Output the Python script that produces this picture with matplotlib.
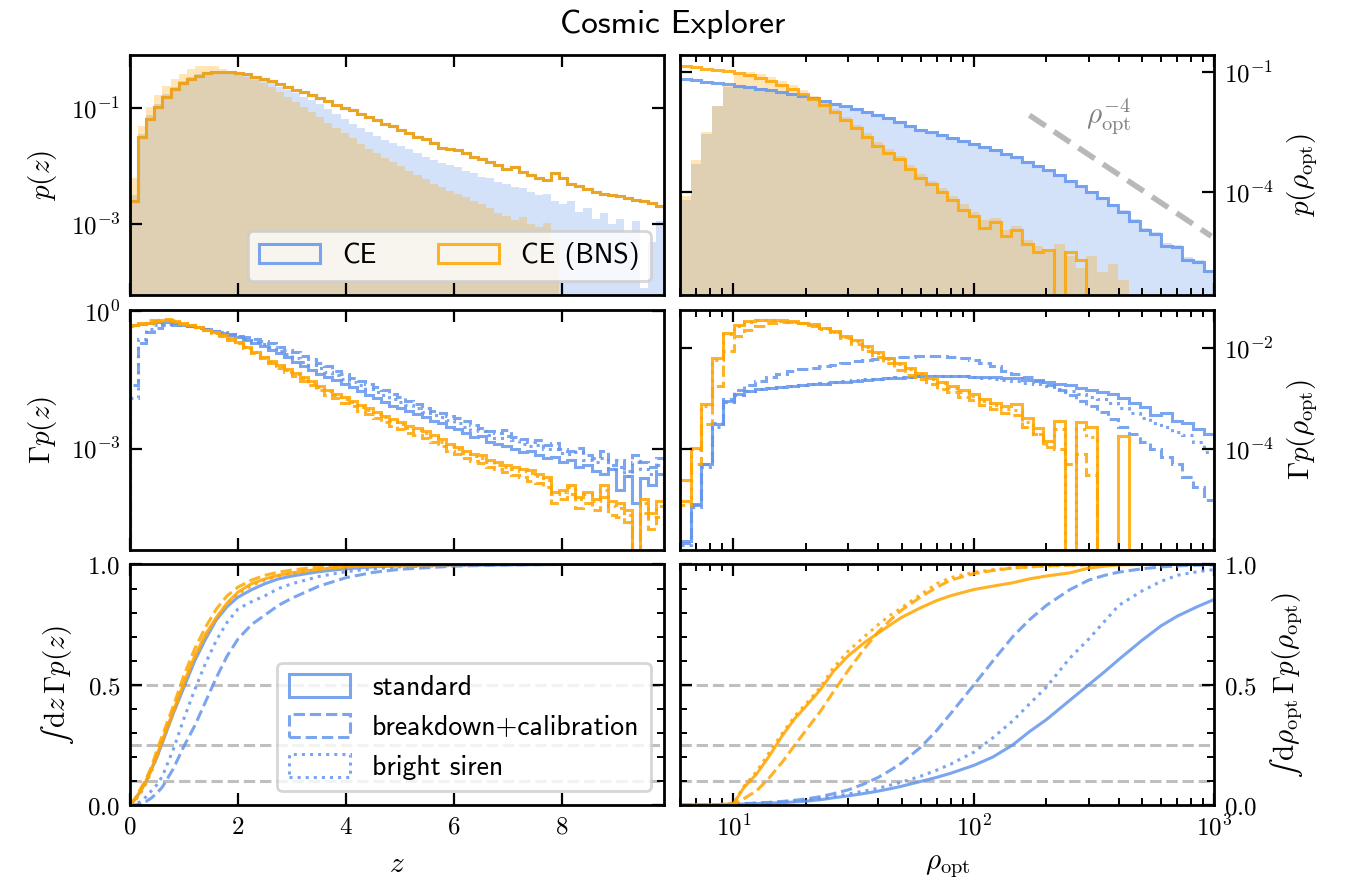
import numpy as np
import matplotlib
matplotlib.use('Agg')
import matplotlib.pyplot as plt
from matplotlib.patches import Patch
from matplotlib.ticker import FuncFormatter, MultipleLocator, NullLocator

plt.rcParams['mathtext.fontset'] = 'cm'
plt.rcParams['font.size'] = 9
plt.rcParams['axes.linewidth'] = 1.0

blue = 'cornflowerblue'
orange = 'orange'
NaN = np.nan

# ---------------- bins ----------------
z_edges = np.linspace(0, 9.9, 67)                 # 66 bins in z
rho_edges = np.logspace(np.log10(6), 3, 51)       # 50 bins in rho_opt

# ---------------- p(z), log10 values ----------------
logp_z_all = [-2.6, -1.5, -1.18, -0.98, -0.8, -0.67, -0.56, -0.49, -0.44, -0.4,
              -0.38, -0.37, -0.375, -0.39, -0.42, -0.46, -0.5, -0.54, -0.59, -0.64,
              -0.68, -0.73, -0.78, -0.83, -0.88, -0.95, -0.99, -1.04, -1.1, -1.15,
              -1.2, -1.27, -1.3, -1.37, -1.43, -1.5, -1.53, -1.6, -1.68, -1.7,
              -1.72, -1.78, -1.84, -1.88, -1.93, -1.98, -2.04, -2.02, -2.1, -2.15,
              -2.2, -2.23, -2.12, -2.2, -2.3, -2.34, -2.4, -2.44, -2.47, -2.5,
              -2.52, -2.55, -2.58, -2.6, -2.63, -2.69]
logp_z_ce_det = [-2.5, -1.45, -1.12, -0.93, -0.76, -0.63, -0.53, -0.47, -0.42, -0.39,
                 -0.37, -0.36, -0.37, -0.39, -0.42, -0.47, -0.52, -0.57, -0.63, -0.68,
                 -0.74, -0.8, -0.86, -0.93, -1.02, -1.1, -1.19, -1.27, -1.34, -1.41,
                 -1.48, -1.55, -1.6, -1.66, -1.71, -1.78, -1.84, -1.9, -1.95, -1.98,
                 -2.02, -2.08, -2.12, -2.18, -2.2, -2.27, -2.3, -2.35, -2.38, -2.45,
                 -2.5, -2.48, -2.6, -2.65, -2.6, -2.78, -2.72, -2.9, -2.8, -3.0,
                 -2.9, -3.15, -2.95, -4.1, -3.3, -2.95]
logp_z_bns_det = [-2.2, -1.3, -0.98, -0.78, -0.62, -0.5, -0.42, -0.33, -0.28, -0.27,
                  -0.28, -0.33, -0.37, -0.41, -0.46, -0.51, -0.57, -0.64, -0.72, -0.8,
                  -0.89, -0.98, -1.07, -1.16, -1.25, -1.34, -1.43, -1.52, -1.61, -1.7,
                  -1.78, -1.86, -1.93, -2.0, -2.08, -2.15, -2.22, -2.3, -2.35, -2.42,
                  -2.47, -2.53, -2.6, -2.65, -2.72, -2.8, -2.85, -2.92, -2.88, -3.0,
                  -3.05, -2.98, -3.3, NaN, NaN, NaN, NaN, NaN, NaN, NaN,
                  NaN, NaN, NaN, NaN, NaN, NaN]

# ---------------- Gamma p(z) ----------------
logg_z_bns_std = [-0.3, -0.28, -0.25, -0.22, -0.2, -0.22, -0.27, -0.31, -0.35, -0.4,
                  -0.46, -0.52, -0.59, -0.67, -0.78, -0.89, -0.99, -1.09, -1.18, -1.27,
                  -1.35, -1.43, -1.53, -1.63, -1.72, -1.8, -1.88, -1.95, -2.05, -2.12,
                  -2.2, -2.28, -2.36, -2.42, -2.5, -2.55, -2.62, -2.7, -2.8, -2.9,
                  -2.97, -3.05, -3.12, -3.15, -3.25, -3.3, -3.35, -3.4, -3.45, -3.48,
                  -3.55, -3.62, -3.95, -3.9, -3.8, -4.05, -3.95, -4.1, -3.8, -4.15,
                  -4.2, -4.35, -5.5, -4.1, -4.4, -4.15]
logg_z_bns_bkd = [-0.33, -0.25, -0.2, -0.18, -0.17, -0.2, -0.25, -0.3, -0.35, -0.41,
                  -0.48, -0.55, -0.62, -0.7, -0.8, -0.92, -1.03, -1.13, -1.23, -1.33,
                  -1.42, -1.52, -1.62, -1.72, -1.82, -1.9, -2.0, -2.08, -2.17, -2.25,
                  -2.33, -2.42, -2.5, -2.57, -2.65, -2.7, -2.78, -2.86, -2.95, -3.05,
                  -3.12, -3.2, -3.27, -3.32, -3.4, -3.45, -3.52, -3.58, -3.62, -3.7,
                  -3.75, -3.85, -4.2, -4.1, -4.0, -4.3, -4.2, -4.35, -4.05, -4.45,
                  -4.5, -4.6, -5.3, -4.4, -4.75, -4.5]
logg_z_bns_brt = [-0.31, -0.27, -0.23, -0.2, -0.19, -0.21, -0.26, -0.3, -0.35, -0.4,
                  -0.47, -0.53, -0.6, -0.68, -0.79, -0.9, -1.0, -1.1, -1.2, -1.29,
                  -1.38, -1.46, -1.56, -1.66, -1.75, -1.83, -1.92, -1.99, -2.09, -2.16,
                  -2.24, -2.32, -2.4, -2.46, -2.54, -2.6, -2.67, -2.75, -2.85, -2.95,
                  -3.02, -3.1, -3.17, -3.2, -3.3, -3.35, -3.4, -3.45, -3.5, -3.53,
                  -3.6, -3.68, -4.0, -3.95, -3.85, -4.1, -4.0, -4.15, -3.9, -4.25,
                  -4.3, -4.45, -5.4, -4.2, -4.5, -4.25]
logg_z_ce_std = [-0.3, -0.27, -0.25, -0.24, -0.24, -0.26, -0.29, -0.32, -0.35, -0.39,
                 -0.43, -0.47, -0.52, -0.57, -0.63, -0.69, -0.76, -0.84, -0.92, -1.0,
                 -1.1, -1.2, -1.28, -1.36, -1.44, -1.5, -1.58, -1.66, -1.74, -1.82,
                 -1.9, -1.98, -2.06, -2.12, -2.18, -2.25, -2.32, -2.4, -2.45, -2.52,
                 -2.58, -2.66, -2.75, -2.72, -2.85, -2.9, -2.95, -3.0, -3.08, -3.05,
                 -3.15, -3.2, -3.18, -3.3, -3.25, -3.4, -3.35, -3.5, -3.55, -3.45,
                 -3.9, -3.6, -4.2, -3.65, -3.8, -3.55]
logg_z_ce_bkd = [-1.6, -0.7, -0.45, -0.36, -0.31, -0.3, -0.31, -0.33, -0.36, -0.39,
                 -0.42, -0.46, -0.5, -0.53, -0.56, -0.6, -0.64, -0.7, -0.77, -0.84,
                 -0.9, -0.98, -1.05, -1.12, -1.2, -1.3, -1.38, -1.45, -1.52, -1.58,
                 -1.65, -1.72, -1.8, -1.88, -1.95, -2.03, -2.12, -2.18, -2.22, -2.28,
                 -2.33, -2.4, -2.48, -2.55, -2.62, -2.67, -2.6, -2.75, -2.8, -2.86,
                 -2.82, -2.92, -2.88, -3.0, -3.05, -2.98, -3.15, -3.2, -3.05, -3.35,
                 -3.25, -3.5, -3.15, -3.3, -3.4, -3.2]
logg_z_ce_brt = [-1.9, -0.6, -0.38, -0.3, -0.27, -0.27, -0.29, -0.32, -0.35, -0.38,
                 -0.42, -0.46, -0.5, -0.55, -0.6, -0.66, -0.72, -0.79, -0.86, -0.94,
                 -1.02, -1.1, -1.18, -1.25, -1.32, -1.4, -1.47, -1.55, -1.62, -1.7,
                 -1.77, -1.84, -1.92, -1.99, -2.05, -2.12, -2.2, -2.27, -2.32, -2.38,
                 -2.45, -2.52, -2.6, -2.62, -2.7, -2.76, -2.72, -2.82, -2.9, -2.95,
                 -2.92, -3.02, -3.0, -3.1, -3.12, -3.08, -3.25, -3.3, -3.2, -3.45,
                 -3.4, -3.6, -3.3, -3.45, -3.55, -3.35]

# ---------------- p(rho_opt) ----------------
logp_r_ce_all = [-1.18, -1.21, -1.24, -1.28, -1.31, -1.35, -1.38, -1.42, -1.46, -1.51,
                 -1.55, -1.6, -1.66, -1.73, -1.79, -1.86, -1.93, -2.0, -2.07, -2.15,
                 -2.24, -2.34, -2.44, -2.51, -2.58, -2.65, -2.72, -2.79, -2.87, -2.95,
                 -3.04, -3.13, -3.24, -3.35, -3.46, -3.58, -3.72, -3.86, -4.0, -4.15,
                 -4.33, -4.5, -4.72, -4.95, -5.05, -5.35, -5.38, -5.7, -5.75, -5.98]
logp_r_bns_all = [-0.85, -0.88, -0.92, -0.95, -0.98, -1.02, -1.08, -1.15, -1.23, -1.33,
                  -1.43, -1.55, -1.67, -1.83, -2.0, -2.2, -2.4, -2.62, -2.85, -3.02,
                  -3.18, -3.42, -3.65, -3.8, -4.0, -4.2, -4.45, -4.6, -4.9, -4.75,
                  -5.1, -4.95, -5.3, -5.5, -5.45, -99, -5.5, -5.7, -99, NaN,
                  NaN, NaN, NaN, NaN, NaN, NaN, NaN, NaN, NaN, NaN]
logp_r_ce_det = [-4.2, -3.3, -2.55, -1.85, -1.38, -1.36, -1.37, -1.41, -1.45, -1.49,
                 -1.53, -1.58, -1.64, -1.71, -1.77, -1.84, -1.91, -1.98, -2.05, -2.13,
                 -2.22, -2.32, -2.42, -2.49, -2.56, -2.63, -2.7, -2.77, -2.85, -2.93,
                 -3.02, -3.11, -3.22, -3.33, -3.44, -3.56, -3.7, -3.84, -3.98, -4.12,
                 -4.3, -4.46, -4.68, -4.9, -5.0, -5.28, -5.33, -5.62, -5.7, -5.95]
logp_r_bns_det = [-4.1, -3.2, -2.5, -1.85, -1.35, -1.05, -1.0, -1.05, -1.12, -1.22,
                  -1.32, -1.45, -1.6, -1.77, -1.93, -2.12, -2.32, -2.53, -2.75, -2.93,
                  -3.1, -3.33, -3.55, -3.72, -3.9, -4.1, -4.3, -4.5, -4.7, -4.65,
                  -4.95, -4.85, -5.2, -5.35, -5.5, -5.3, -5.6, -5.9, -5.6, -6.0,
                  -5.8, -6.2, NaN, NaN, NaN, NaN, NaN, NaN, NaN, NaN]

# ---------------- Gamma p(rho_opt) ----------------
logg_r_bns_std = [-5.02, -3.97, -3.11, -2.18, -1.69, -1.54, -1.46, -1.43, -1.43, -1.44,
                  -1.46, -1.49, -1.52, -1.59, -1.66, -1.76, -1.84, -1.95, -2.07, -2.18,
                  -2.28, -2.38, -2.49, -2.58, -2.66, -2.75, -2.83, -2.91, -3.01, -3.08,
                  -3.14, -3.11, -3.37, -3.57, -3.83, -3.44, -99, -3.45, -3.55, -99,
                  -99, -3.73, -99, NaN, NaN, NaN, NaN, NaN, NaN, NaN]
logg_r_bns_bkd = [-4.6, -4.3, -3.5, -2.75, -2.06, -1.75, -1.63, -1.55, -1.5, -1.48,
                  -1.48, -1.5, -1.55, -1.6, -1.67, -1.8, -1.92, -2.05, -2.16, -2.28,
                  -2.42, -2.52, -2.6, -2.7, -2.8, -2.87, -2.96, -3.03, -3.12, -3.2,
                  -3.28, -3.32, -3.55, -3.7, -3.95, -4.0, -4.3, -4.1, -4.5, -99,
                  NaN, NaN, NaN, NaN, NaN, NaN, NaN, NaN, NaN, NaN]
logg_r_bns_brt = [-5.1, -4.0, -3.15, -2.22, -1.71, -1.55, -1.47, -1.44, -1.44, -1.45,
                  -1.47, -1.5, -1.54, -1.61, -1.68, -1.78, -1.86, -1.97, -2.09, -2.2,
                  -2.3, -2.4, -2.51, -2.6, -2.69, -2.78, -2.87, -2.95, -3.05, -3.13,
                  -3.2, -3.22, -3.45, -3.7, -3.9, -3.6, -99, -3.6, -3.75, -99,
                  NaN, NaN, NaN, NaN, NaN, NaN, NaN, NaN, NaN, NaN]
logg_r_ce_std = [-5.82, -5.09, -4.3, -3.5, -3.04, -2.9, -2.84, -2.81, -2.78, -2.77,
                 -2.75, -2.73, -2.71, -2.7, -2.67, -2.66, -2.65, -2.63, -2.61, -2.59,
                 -2.58, -2.57, -2.55, -2.55, -2.55, -2.54, -2.55, -2.56, -2.57, -2.57,
                 -2.58, -2.59, -2.62, -2.63, -2.66, -2.7, -2.73, -2.78, -2.83, -2.86,
                 -2.91, -2.98, -3.08, -3.17, -3.31, -3.27, -3.43, -3.47, -3.6, -3.69]
logg_r_ce_bkd = [-5.85, -5.1, -4.3, -3.48, -3.0, -2.82, -2.72, -2.64, -2.57, -2.5,
                 -2.45, -2.41, -2.38, -2.35, -2.32, -2.28, -2.25, -2.22, -2.2, -2.18,
                 -2.17, -2.16, -2.15, -2.15, -2.15, -2.16, -2.18, -2.22, -2.28, -2.35,
                 -2.44, -2.5, -2.57, -2.65, -2.73, -2.83, -2.93, -3.05, -3.15, -3.26,
                 -3.4, -3.55, -3.7, -3.85, -4.0, -4.15, -4.3, -4.55, -4.75, -5.0]
logg_r_ce_brt = [-5.9, -5.15, -4.35, -3.55, -3.07, -2.92, -2.85, -2.81, -2.78, -2.76,
                 -2.74, -2.72, -2.7, -2.68, -2.66, -2.65, -2.63, -2.61, -2.6, -2.58,
                 -2.57, -2.56, -2.55, -2.54, -2.54, -2.54, -2.55, -2.56, -2.58, -2.6,
                 -2.62, -2.64, -2.68, -2.7, -2.75, -2.8, -2.85, -2.9, -2.96, -3.0,
                 -3.08, -3.18, -3.28, -3.38, -3.47, -3.55, -3.65, -3.72, -3.85, -4.05]

# ---------------- cumulative curves ----------------
z_cdf = [0, 0.1, 0.2, 0.3, 0.4, 0.5, 0.6, 0.8, 1.0, 1.2, 1.4, 1.6, 1.8, 2.0, 2.25,
         2.5, 2.75, 3.0, 3.5, 4.0, 4.5, 5.0, 6.0, 7.0, 8.0, 9.9]
cdf_z_ce_std = [0, 0.025, 0.06, 0.1, 0.15, 0.2, 0.26, 0.38, 0.49, 0.6, 0.69, 0.77, 0.825,
                0.864, 0.895, 0.92, 0.94, 0.952, 0.97, 0.982, 0.99, 0.994, 0.998, 0.999, 1.0, 1.0]
cdf_z_ce_bkd = [0, 0.0, 0.005, 0.015, 0.03, 0.05, 0.075, 0.15, 0.245, 0.33, 0.43, 0.53, 0.62,
                0.69, 0.75, 0.79, 0.83, 0.86, 0.91, 0.945, 0.967, 0.98, 0.993, 0.998, 1.0, 1.0]
cdf_z_ce_brt = [0, 0.003, 0.015, 0.035, 0.06, 0.085, 0.12, 0.23, 0.36, 0.48, 0.59, 0.685, 0.76,
                0.815, 0.845, 0.87, 0.9, 0.92, 0.95, 0.97, 0.982, 0.99, 0.996, 0.999, 1.0, 1.0]
cdf_z_bns_std = [0, 0.025, 0.06, 0.1, 0.15, 0.21, 0.27, 0.39, 0.51, 0.62, 0.71, 0.78, 0.84,
                 0.885, 0.92, 0.94, 0.955, 0.965, 0.98, 0.99, 0.995, 0.997, 0.999, 1.0, 1.0, 1.0]
cdf_z_bns_bkd = [0, 0.03, 0.07, 0.11, 0.16, 0.23, 0.29, 0.41, 0.54, 0.65, 0.74, 0.815, 0.87,
                 0.906, 0.935, 0.955, 0.968, 0.977, 0.99, 0.995, 0.998, 0.999, 1.0, 1.0, 1.0, 1.0]
cdf_z_bns_brt = [0, 0.02, 0.05, 0.09, 0.14, 0.2, 0.26, 0.38, 0.5, 0.61, 0.7, 0.775, 0.835,
                 0.878, 0.912, 0.935, 0.952, 0.963, 0.98, 0.99, 0.995, 0.997, 0.999, 1.0, 1.0, 1.0]

rho_cdf = [6, 8, 10, 11, 12.5, 14, 16, 18, 20, 23, 26, 30, 35, 40, 45, 50, 60, 70, 80,
           100, 120, 145, 170, 200, 250, 300, 350, 400, 500, 600, 700, 850, 1000]
cdf_r_bns_std = [0, 0, 0.005, 0.07, 0.13, 0.2, 0.29, 0.36, 0.41, 0.48, 0.555, 0.62, 0.675,
                 0.715, 0.75, 0.78, 0.82, 0.85, 0.87, 0.896, 0.91, 0.924, 0.94, 0.952, 0.965,
                 0.985, 0.993, 0.998, 1.0, 1.0, 1.0, 1.0, 1.0]
cdf_r_bns_brt = [0, 0, 0.005, 0.075, 0.14, 0.215, 0.3, 0.37, 0.42, 0.49, 0.57, 0.64, 0.7,
                 0.75, 0.79, 0.82, 0.875, 0.92, 0.945, 0.968, 0.978, 0.986, 0.99, 0.994, 0.997,
                 0.999, 1.0, 1.0, 1.0, 1.0, 1.0, 1.0, 1.0]
cdf_r_bns_bkd = [0, 0, 0.003, 0.025, 0.06, 0.11, 0.18, 0.25, 0.31, 0.39, 0.47, 0.56, 0.65,
                 0.72, 0.77, 0.81, 0.865, 0.905, 0.935, 0.962, 0.975, 0.985, 0.99, 0.994, 0.997,
                 0.999, 1.0, 1.0, 1.0, 1.0, 1.0, 1.0, 1.0]
cdf_r_ce_std = [0, 0.0, 0.003, 0.004, 0.006, 0.008, 0.01, 0.013, 0.016, 0.022, 0.03, 0.038,
                0.048, 0.058, 0.068, 0.078, 0.098, 0.115, 0.132, 0.165, 0.2, 0.25, 0.305,
                0.355, 0.435, 0.5, 0.555, 0.605, 0.685, 0.745, 0.785, 0.825, 0.855]
cdf_r_ce_brt = [0, 0.0, 0.005, 0.006, 0.008, 0.01, 0.013, 0.017, 0.021, 0.028, 0.036, 0.046,
                0.058, 0.07, 0.083, 0.095, 0.12, 0.145, 0.17, 0.22, 0.28, 0.35, 0.42, 0.49,
                0.61, 0.69, 0.765, 0.83, 0.89, 0.93, 0.955, 0.97, 0.979]
cdf_r_ce_bkd = [0, 0.0, 0.005, 0.006, 0.008, 0.011, 0.015, 0.02, 0.025, 0.035, 0.047, 0.063,
                0.088, 0.115, 0.145, 0.175, 0.24, 0.31, 0.38, 0.5, 0.6, 0.7, 0.77, 0.83,
                0.895, 0.935, 0.955, 0.968, 0.982, 0.99, 0.994, 0.997, 0.998]

# rho^-4 guide line (two end points) and quantile levels
rho_guide = np.array([170, 970])
p_guide_at_start = 8.3e-3
quantiles = [0.1, 0.25, 0.5]


def v(logs):
    return 10.0 ** np.asarray(logs, dtype=float)


def log_fmt(x, pos):
    return r'$10^{%d}$' % int(round(np.log10(x)))


fig, axes = plt.subplots(3, 2, figsize=(6.73, 4.415), dpi=200, sharex='col',
                         gridspec_kw=dict(left=0.0966, right=0.9023, bottom=0.0883,
                                          top=0.938, wspace=0.0294, hspace=0.0594))

lw = 1.1
la = 0.85
styles = ['-', '--', ':']
leg_font = {'family': ['cmss10', 'DejaVu Sans'], 'size': 10}

# ---- top left: p(z)
ax = axes[0, 0]
ax.stairs(v(logp_z_ce_det), z_edges, fill=True, color=blue, alpha=0.28, lw=0, baseline=1e-12)
ax.stairs(v(logp_z_bns_det), z_edges, fill=True, color=orange, alpha=0.28, lw=0, baseline=1e-12)
ax.stairs(v(logp_z_all), z_edges, color=blue, lw=lw, alpha=la)
ax.stairs(v(logp_z_all), z_edges, color=orange, lw=lw, alpha=la)
ax.set_yscale('log')
ax.set_ylim(6e-5, 0.83)
ax.set_yticks([1e-3, 1e-1])
ax.set_ylabel(r'$p(z)$', fontsize=10.5)
ax.legend(handles=[Patch(facecolor='none', edgecolor=blue, lw=lw, alpha=la, label='CE'),
                   Patch(facecolor='none', edgecolor=orange, lw=lw, alpha=la, label='CE (BNS)')],
          loc='lower right', ncol=2, columnspacing=2.2, handlelength=2.2,
          prop=leg_font, framealpha=0.8)

# ---- top right: p(rho)
ax = axes[0, 1]
ax.stairs(v(logp_r_ce_det), rho_edges, fill=True, color=blue, alpha=0.28, lw=0, baseline=1e-12)
ax.stairs(v(logp_r_bns_det), rho_edges, fill=True, color=orange, alpha=0.28, lw=0, baseline=1e-12)
ax.stairs(v(logp_r_ce_all), rho_edges, color=blue, lw=lw, alpha=la)
ax.stairs(v(logp_r_bns_all), rho_edges, color=orange, lw=lw, alpha=la)
ax.plot(rho_guide, p_guide_at_start * (rho_guide / rho_guide[0]) ** -4.0,
        color='0.72', lw=2.0, ls=(0, (3.5, 1.8)))
ax.text(365, 10 ** -2.13, r'$\rho_{\mathrm{opt}}^{-4}$', color='0.5', fontsize=10.5,
        ha='center', va='center')
ax.set_yscale('log')
ax.set_ylim(2.6e-7, 0.27)
ax.set_yticks([1e-4, 1e-1])
ax.set_ylabel(r'$p(\rho_{\mathrm{opt}})$', fontsize=10.5)

# ---- middle left: Gamma p(z)
ax = axes[1, 0]
for vals, ls in zip([logg_z_ce_std, logg_z_ce_bkd, logg_z_ce_brt], styles):
    ax.stairs(v(vals), z_edges, color=blue, lw=lw, alpha=la, ls=ls)
for vals, ls in zip([logg_z_bns_std, logg_z_bns_bkd, logg_z_bns_brt], styles):
    ax.stairs(v(vals), z_edges, color=orange, lw=lw, alpha=la, ls=ls)
ax.set_yscale('log')
ax.set_ylim(6e-6, 1.09)
ax.set_yticks([1e-3, 1e0])
ax.set_ylabel(r'$\Gamma p(z)$', fontsize=10.5)

# ---- middle right: Gamma p(rho)
ax = axes[1, 1]
for vals, ls in zip([logg_r_ce_std, logg_r_ce_bkd, logg_r_ce_brt], styles):
    ax.stairs(v(vals), rho_edges, color=blue, lw=lw, alpha=la, ls=ls)
for vals, ls in zip([logg_r_bns_std, logg_r_bns_bkd, logg_r_bns_brt], styles):
    ax.stairs(v(vals), rho_edges, color=orange, lw=lw, alpha=la, ls=ls)
ax.set_yscale('log')
ax.set_ylim(1e-6, 0.059)
ax.set_yticks([1e-4, 1e-2])
ax.set_ylabel(r'$\Gamma p(\rho_{\mathrm{opt}})$', fontsize=10.5)

# ---- bottom left: cumulative in z
ax = axes[2, 0]
for q in quantiles:
    ax.axhline(q, color='0.75', ls='--', lw=1.1, zorder=0)
for vals, ls in zip([cdf_z_ce_std, cdf_z_ce_bkd, cdf_z_ce_brt], styles):
    ax.plot(z_cdf, vals, color=blue, lw=lw, alpha=la, ls=ls)
for vals, ls in zip([cdf_z_bns_std, cdf_z_bns_bkd, cdf_z_bns_brt], styles):
    ax.plot(z_cdf, vals, color=orange, lw=lw, alpha=la, ls=ls)
ax.set_ylabel('$\u222b\\,\\mathrm{d}z\\,\\Gamma p(z)$', fontsize=10.5)
ax.set_xlabel(r'$z$', fontsize=10.5)
ax.legend(handles=[Patch(facecolor='none', edgecolor=blue, lw=lw, alpha=la, ls=ls, label=lab)
                   for ls, lab in zip(styles, ['standard', 'breakdown+calibration', 'bright siren'])],
          loc='lower right', handlelength=2.2, handleheight=0.9,
          prop=leg_font, framealpha=0.8)

# ---- bottom right: cumulative in rho
ax = axes[2, 1]
for q in quantiles:
    ax.axhline(q, color='0.75', ls='--', lw=1.1, zorder=0)
for vals, ls in zip([cdf_r_ce_std, cdf_r_ce_bkd, cdf_r_ce_brt], styles):
    ax.plot(rho_cdf, vals, color=blue, lw=lw, alpha=la, ls=ls)
for vals, ls in zip([cdf_r_bns_std, cdf_r_bns_bkd, cdf_r_bns_brt], styles):
    ax.plot(rho_cdf, vals, color=orange, lw=lw, alpha=la, ls=ls)
ax.set_ylabel('$\u222b\\,\\mathrm{d}\\rho_{\\mathrm{opt}}\\,\\Gamma p(\\rho_{\\mathrm{opt}})$',
              fontsize=10.5)
ax.set_xlabel(r'$\rho_{\mathrm{opt}}$', fontsize=10.5)

# ---- axes cosmetics
for ax in axes[2]:
    ax.set_ylim(0, 1)
    ax.yaxis.set_major_locator(MultipleLocator(0.5))
    ax.yaxis.set_minor_locator(MultipleLocator(0.1))
    ax.yaxis.set_major_formatter(FuncFormatter(lambda x, p: r'$%.1f$' % x))
for ax in axes[:2].ravel():
    ax.yaxis.set_major_formatter(FuncFormatter(log_fmt))
    ax.yaxis.set_minor_locator(NullLocator())

axes[2, 0].set_xlim(0, 9.9)
axes[2, 0].xaxis.set_major_locator(MultipleLocator(2))
axes[2, 0].xaxis.set_major_formatter(FuncFormatter(lambda x, p: r'$%d$' % x))
axes[2, 1].set_xscale('log')
axes[2, 1].set_xlim(6, 1000)
axes[2, 1].xaxis.set_major_formatter(FuncFormatter(log_fmt))

for ax in axes.ravel():
    ax.tick_params(which='both', direction='in', top=True, right=True, left=True, bottom=True)
    ax.tick_params(which='major', length=4.2, width=0.8, labelsize=9)
    ax.tick_params(which='minor', length=2.4, width=0.7)
for ax in axes[:, 1]:
    ax.yaxis.set_label_position('right')
    ax.tick_params(axis='y', labelleft=False, labelright=True)

fig.text(0.5, 0.972, 'Cosmic Explorer', ha='center', va='center', fontsize=12,
         family=['cmss10', 'DejaVu Sans'])

fig.savefig('out.png', dpi=200)
